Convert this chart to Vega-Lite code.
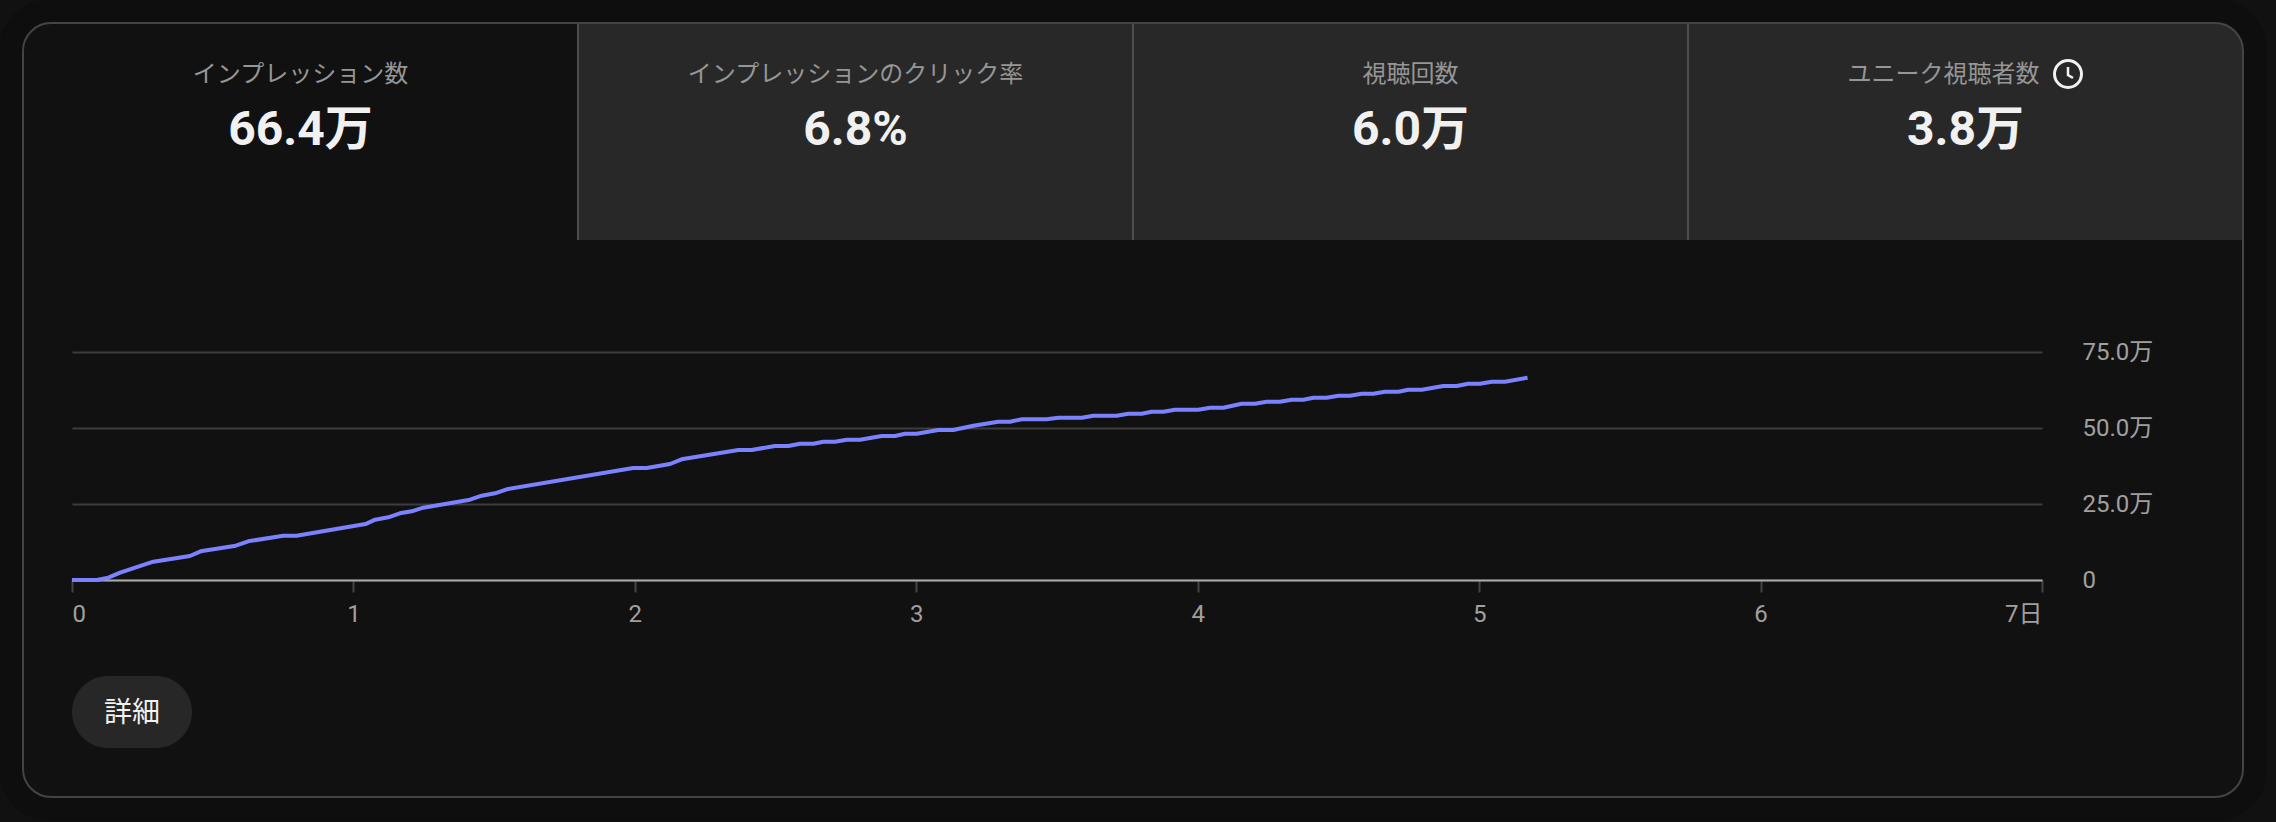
{
"$schema":"https://vega.github.io/schema/vega-lite/v6.json",
"width":2276,"height":822,"autosize":"none","padding":0,"background":"#111111",
"config":{"view":{"stroke":null},"font":"Roboto, 'Noto Sans CJK JP'"},
"datasets":{
"tabs":[
{"tab":"インプレッション数","metric":"66.4万","selected":true,"icon":false},
{"tab":"インプレッションのクリック率","metric":"6.8%","selected":false,"icon":false},
{"tab":"視聴回数","metric":"6.0万","selected":false,"icon":false},
{"tab":"ユニーク視聴者数","metric":"3.8万","selected":false,"icon":true}],
"series":[
{"day":0,"views":0},{"day":0.088,"views":0},{"day":0.129,"views":7600},{"day":0.171,"views":24000},{"day":0.289,"views":60200},{"day":0.419,"views":79000},{"day":0.457,"views":94400},{"day":0.582,"views":112800},{"day":0.626,"views":127300},{"day":0.751,"views":145700},{"day":0.798,"views":145700},{"day":1.043,"views":184000},{"day":1.077,"views":198400},{"day":1.124,"views":206200},{"day":1.165,"views":219400},{"day":1.207,"views":226000},{"day":1.248,"views":237800},{"day":1.414,"views":264100},{"day":1.456,"views":277300},{"day":1.503,"views":285200},{"day":1.545,"views":298400},{"day":1.994,"views":368400},{"day":2.042,"views":368400},{"day":2.125,"views":381600},{"day":2.166,"views":397000},{"day":2.368,"views":427600},{"day":2.415,"views":427600},{"day":2.498,"views":440800},{"day":2.545,"views":440800},{"day":2.587,"views":448400},{"day":2.634,"views":448400},{"day":2.67,"views":454900},{"day":2.711,"views":454900},{"day":2.753,"views":461500},{"day":2.8,"views":461500},{"day":2.877,"views":473700},{"day":2.924,"views":473700},{"day":2.96,"views":481300},{"day":3.001,"views":481300},{"day":3.078,"views":493400},{"day":3.131,"views":493400},{"day":3.203,"views":507600},{"day":3.291,"views":520700},{"day":3.333,"views":520700},{"day":3.375,"views":528600},{"day":3.463,"views":528600},{"day":3.505,"views":533900},{"day":3.588,"views":533900},{"day":3.629,"views":540500},{"day":3.712,"views":540500},{"day":3.753,"views":547000},{"day":3.801,"views":547000},{"day":3.836,"views":553600},{"day":3.878,"views":553600},{"day":3.919,"views":560200},{"day":4.002,"views":560200},{"day":4.044,"views":566800},{"day":4.091,"views":566800},{"day":4.156,"views":580000},{"day":4.203,"views":580000},{"day":4.245,"views":586500},{"day":4.292,"views":586500},{"day":4.334,"views":593100},{"day":4.375,"views":593100},{"day":4.411,"views":599700},{"day":4.458,"views":599700},{"day":4.5,"views":606300},{"day":4.541,"views":606300},{"day":4.583,"views":612900},{"day":4.624,"views":612900},{"day":4.665,"views":619400},{"day":4.713,"views":619400},{"day":4.748,"views":626000},{"day":4.796,"views":626000},{"day":4.873,"views":638200},{"day":4.92,"views":638200},{"day":4.961,"views":645700},{"day":5.003,"views":645700},{"day":5.045,"views":652300},{"day":5.092,"views":652300},{"day":5.172,"views":665500}]
},
"layer":[
{"layer":[
{"data":{"values":[{"part":"page"}]},"mark":{"type":"rect","cornerRadius":39.5,"fillOpacity":0,"stroke":"#0e0e0e","strokeWidth":24},"encoding":{"x":{"value":11},"x2":{"value":2255},"y":{"value":11},"y2":{"value":809}}},
{"data":{"name":"tabs"},"transform":[{"filter":"!datum.selected && !datum.icon"}],"mark":{"type":"rect","fill":"#282828"},"encoding":{"x":{"field":"tab","type":"nominal","axis":null,"scale":{"domain":["インプレッション数","インプレッションのクリック率","視聴回数","ユニーク視聴者数"],"range":[23,2243],"paddingInner":0,"paddingOuter":0}},"y":{"value":23},"y2":{"value":240}}},
{"data":{"name":"tabs"},"transform":[{"filter":"datum.icon"}],"mark":{"type":"rect","fill":"#282828","cornerRadiusTopRight":28},"encoding":{"x":{"field":"tab","type":"nominal","axis":null},"y":{"value":23},"y2":{"value":240}}},
{"data":{"name":"tabs"},"transform":[{"filter":"!datum.selected"}],"mark":{"type":"rule","stroke":"#4d4d4d","strokeWidth":2},"encoding":{"x":{"field":"tab","type":"nominal","axis":null,"bandPosition":0},"y":{"value":23},"y2":{"value":240}}},
{"data":{"values":[{"part":"card"}]},"mark":{"type":"rect","cornerRadius":28,"fillOpacity":0,"stroke":"#444444","strokeWidth":2},"encoding":{"x":{"value":23},"x2":{"value":2243},"y":{"value":23},"y2":{"value":797}}},
{"data":{"name":"tabs"},"transform":[{"filter":"!datum.icon"}],"mark":{"type":"text","fontSize":24,"color":"#969696","align":"center","baseline":"alphabetic"},"encoding":{"x":{"field":"tab","type":"nominal","axis":null},"y":{"value":82},"text":{"field":"tab"}}},
{"data":{"name":"tabs"},"transform":[{"filter":"datum.icon"}],"mark":{"type":"text","fontSize":24,"color":"#969696","align":"center","baseline":"alphabetic","dx":-22},"encoding":{"x":{"field":"tab","type":"nominal","axis":null},"y":{"value":82},"text":{"field":"tab"}}},
{"data":{"name":"tabs"},"mark":{"type":"text","fontSize":48,"fontWeight":700,"color":"#f1f1f1","align":"center","baseline":"alphabetic"},"encoding":{"x":{"field":"tab","type":"nominal","axis":null},"y":{"value":145},"text":{"field":"metric"}}},
{"data":{"name":"tabs"},"transform":[{"filter":"datum.icon"}],"mark":{"type":"point","shape":"circle","size":729,"filled":false,"stroke":"#f1f1f1","strokeWidth":3,"opacity":1,"xOffset":102.5},"encoding":{"x":{"field":"tab","type":"nominal","axis":null},"y":{"value":74}}},
{"data":{"name":"tabs"},"transform":[{"filter":"datum.icon"}],"mark":{"type":"point","shape":"M0,-0.7L0,0.1L0.5,0.4","size":400,"filled":false,"stroke":"#f1f1f1","strokeWidth":2.5,"opacity":1,"xOffset":102.5},"encoding":{"x":{"field":"tab","type":"nominal","axis":null},"y":{"value":74}}},
{"data":{"values":[{"button":"詳細"}]},"mark":{"type":"rect","cornerRadius":36,"fill":"#272727"},"encoding":{"x":{"value":72},"x2":{"value":192},"y":{"value":676},"y2":{"value":748}}},
{"data":{"values":[{"button":"詳細"}]},"mark":{"type":"text","fontSize":28,"color":"#f1f1f1","align":"center","baseline":"alphabetic"},"encoding":{"x":{"value":132},"y":{"value":722},"text":{"field":"button"}}}
]},
{"data":{"name":"series"},
"mark":{"type":"line","stroke":"#7c82ff","strokeWidth":4,"strokeJoin":"round","clip":false},
"encoding":{
"x":{"field":"day","type":"quantitative","scale":{"domain":[0,7],"range":[72,2042],"nice":false,"zero":false},
"axis":{"orient":"bottom","offset":-242,"title":null,"values":[0,1,2,3,4,5,6,7],"grid":false,"domainColor":"#a8a8a8","domainWidth":2,"tickColor":"#444444","tickWidth":2,"tickSize":12,"labelColor":"#a0a0a0","labelFontSize":24,"labelPadding":10,"labelFlush":false,"labelOverlap":false,"labelAlign":{"expr":"datum.value==0?'left':datum.value==7?'right':'center'"},"labelExpr":"datum.value==7?'7日':datum.value+''"}},
"y":{"field":"views","type":"quantitative","scale":{"domain":[0,750000],"range":[580,352],"nice":false},
"axis":{"orient":"left","offset":-2042,"title":null,"values":[0,250000,500000,750000],"grid":true,"gridColor":"#3d3d3d","gridWidth":2,"domain":false,"ticks":false,"labelColor":"#a0a0a0","labelFontSize":24,"labelPadding":-40,"labelAlign":"left","labelFlush":false,"labelOverlap":false,"labelExpr":"datum.value==0?'0':format(datum.value/10000,'.1f')+'万'"}}
}}
],
"resolve":{"scale":{"x":"independent","y":"independent"},"axis":{"x":"independent","y":"independent"}}
}
